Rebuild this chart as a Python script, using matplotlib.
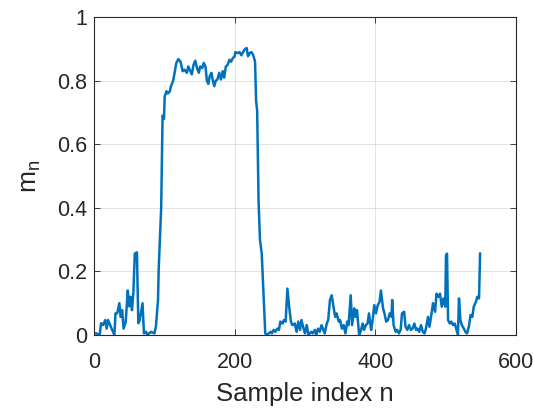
import numpy as np
import matplotlib.pyplot as plt

plt.rcParams['font.family'] = ['Liberation Sans', 'DejaVu Sans']
plt.rcParams['mathtext.default'] = 'regular'

# values
n = [0, 3, 8, 10, 13, 16, 18, 20, 23, 25, 29, 30.5, 33, 36, 38, 40, 42, 45, 48, 50,
     52, 54, 56, 58, 61, 63, 65, 69, 71, 74, 76, 81, 86, 88, 91, 92, 94, 95.5, 97.5, 99.5,
     100.5, 103, 105, 108, 109, 112.5, 115, 117, 120, 123, 126, 128.5, 132, 134, 137, 139,
     141.5, 144, 146.5, 149, 151, 154, 156, 158.5, 160.5, 162.5, 164.5, 167, 169, 171, 173,
     175.5, 178, 180.5, 183, 185, 187.5, 190, 192.5, 195, 197, 200, 201, 204.5, 207, 209.5,
     212, 214, 217, 219, 221.5, 224, 226.5, 229, 230.5, 232, 234, 236, 238.5, 241, 243.5,
     246, 251, 253, 255.5, 258, 260.5, 263, 265, 268, 270, 272.5, 275, 277.5, 280, 282,
     285.5, 288, 290.5, 293, 295, 298, 300, 302.5, 305, 309, 311, 314, 316, 318.5, 321,
     323.5, 326, 328, 331, 333, 335.5, 338, 340.5, 343, 345, 348, 350, 352.5, 355, 357.5,
     360, 362, 365, 367, 370, 372, 374, 377, 379, 382, 384, 386.5, 389, 391, 394, 396,
     398.5, 401, 403.5, 406, 408, 411, 413, 415.5, 418, 420.5, 423, 424, 426, 429, 431,
     433.5, 436, 438, 441, 443, 445.5, 448, 450.5, 453, 455.5, 458, 460, 462.5, 465, 467.5,
     470, 472, 475, 477, 480, 482, 485, 487, 489.5, 492, 494.5, 497, 499.5, 500.5, 502,
     503.5, 506, 508, 510.5, 513, 515.5, 517.5, 519, 521, 523, 526, 528, 530.5, 533, 535.5,
     538, 540, 543, 545, 547.5, 549]
m = [0.005, 0.005, 0.0, 0.037, 0.031, 0.047, 0.02, 0.047, 0.031, 0.02, 0.0, 0.068, 0.068,
     0.10, 0.057, 0.078, 0.02, 0.04, 0.14, 0.09, 0.12, 0.078, 0.135, 0.256, 0.26, 0.037,
     0.047, 0.10, 0.005, 0.01, 0.0, 0.01, 0.005, 0.026, 0.11, 0.21, 0.32, 0.40, 0.69, 0.68,
     0.75, 0.767, 0.76, 0.767, 0.78, 0.80, 0.83, 0.856, 0.868, 0.86, 0.83, 0.835, 0.825,
     0.845, 0.83, 0.82, 0.85, 0.863, 0.84, 0.825, 0.845, 0.84, 0.856, 0.845, 0.80, 0.79,
     0.814, 0.825, 0.80, 0.783, 0.80, 0.804, 0.825, 0.804, 0.83, 0.81, 0.845, 0.85, 0.866,
     0.86, 0.87, 0.877, 0.89, 0.887, 0.89, 0.88, 0.89, 0.898, 0.903, 0.877, 0.887, 0.89,
     0.88, 0.86, 0.736, 0.705, 0.42, 0.30, 0.256, 0.13, 0.005, 0.0, 0.01, 0.005, 0.016,
     0.01, 0.02, 0.016, 0.042, 0.036, 0.047, 0.042, 0.146, 0.089, 0.042, 0.031, 0.036,
     0.01, 0.042, 0.016, 0.047, 0.02, 0.005, 0.031, 0.0, 0.01, 0.005, 0.016, 0.0, 0.02,
     0.01, 0.031, 0.016, 0.005, 0.036, 0.047, 0.11, 0.125, 0.089, 0.057, 0.068, 0.042,
     0.047, 0.02, 0.031, 0.005, 0.042, 0.031, 0.125, 0.031, 0.084, 0.057, 0.078, 0.0, 0.01,
     0.036, 0.016, 0.031, 0.036, 0.068, 0.016, 0.042, 0.094, 0.068, 0.094, 0.104, 0.14,
     0.084, 0.068, 0.042, 0.047, 0.068, 0.057, 0.11, 0.031, 0.01, 0.016, 0.005, 0.016,
     0.068, 0.073, 0.026, 0.016, 0.031, 0.016, 0.02, 0.036, 0.016, 0.02, 0.01, 0.031, 0.01,
     0.005, 0.02, 0.057, 0.026, 0.068, 0.10, 0.073, 0.13, 0.12, 0.13, 0.089, 0.115, 0.089,
     0.25, 0.256, 0.047, 0.036, 0.042, 0.031, 0.036, 0.016, 0.0, 0.115, 0.047, 0.031, 0.02,
     0.01, 0.005, 0.026, 0.063, 0.057, 0.089, 0.104, 0.12, 0.115, 0.256]

xticks = [0, 200, 400, 600]
yticks = [0, 0.2, 0.4, 0.6, 0.8, 1]
ytick_labels = ['0', '0.2', '0.4', '0.6', '0.8', '1']

dark = (0.15, 0.15, 0.15)

fig = plt.figure(figsize=(5.33, 4.09), dpi=100)
ax = fig.add_axes([0.1764, 0.181, 0.7916, 0.777])
ax.plot(n, m, color=(0, 0.447, 0.741), linewidth=1.8)

ax.set_xlim(0, 600)
ax.set_ylim(0, 1)
ax.set_xticks(xticks)
ax.set_yticks(yticks)
ax.set_yticklabels(ytick_labels)
ax.grid(True, color=dark, alpha=0.15, linewidth=0.6)
ax.tick_params(direction='in', top=True, right=True, length=4, width=0.6,
               labelsize=15.5, colors=dark)
ax.tick_params(axis='x', pad=12)
ax.tick_params(axis='y', pad=5)
for s in ax.spines.values():
    s.set_color(dark)
    s.set_linewidth(0.8)
ax.set_xlabel('Sample index n', fontsize=18.5, color=dark, labelpad=7)
ax.set_ylabel('m$_n$', fontsize=19, color=dark, labelpad=10)

fig.savefig('out.png', dpi=100)
